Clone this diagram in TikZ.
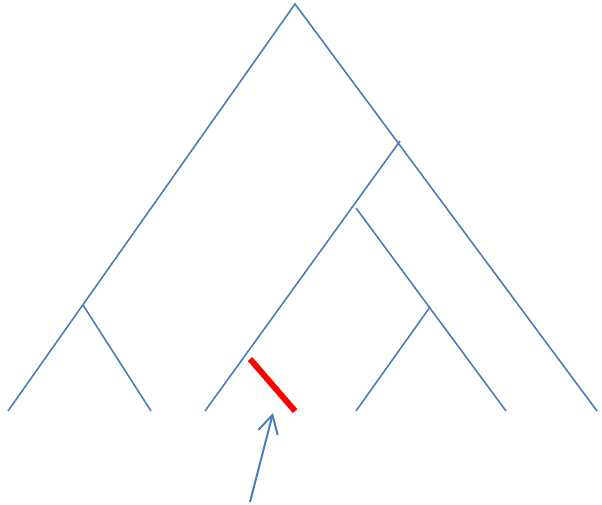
\documentclass[tikz,border=0pt]{standalone}
\usetikzlibrary{arrows.meta}
\definecolor{treeblue}{HTML}{4A7EBB}
\begin{document}
\begin{tikzpicture}[x=1pt,y=-1pt,
  branch/.style={draw=treeblue,line width=1.6pt},
  cut/.style={draw=red,line width=6pt},
  pointer/.style={draw=treeblue,line width=2pt,-{Straight Barb[length=18pt,width=20pt,line width=2pt]}}]
\useasboundingbox (0,0) rectangle (602,505);
\coordinate (root) at (295,4);
\coordinate (l1) at (8,411);
\coordinate (r1) at (597,411);
\coordinate (a) at (83,305);
\coordinate (a2) at (151,411);
\coordinate (b) at (400,141);
\coordinate (b1) at (205,411);
\coordinate (c) at (356,208);
\coordinate (c2) at (506,411);
\coordinate (d) at (430,307);
\coordinate (d1) at (356,411);
\coordinate (x1) at (250,359);
\coordinate (x2) at (295,411);
\coordinate (p0) at (250,502);
\coordinate (p1) at (273,413);
\draw[branch] (l1) -- (root) -- (r1);
\draw[branch] (a) -- (a2);
\draw[branch] (b) -- (b1);
\draw[branch] (c) -- (c2);
\draw[branch] (d) -- (d1);
\draw[cut] (x1) -- (x2);
\draw[pointer] (p0) -- (p1);
\end{tikzpicture}
\end{document}
